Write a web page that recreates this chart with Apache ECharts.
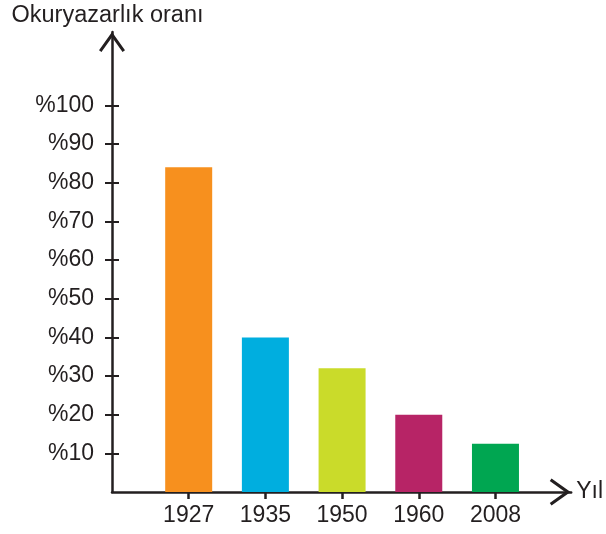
<!DOCTYPE html>
<html>
<head>
<meta charset="utf-8">
<script src="https://cdn.jsdelivr.net/npm/echarts@6/dist/echarts.min.js"></script>
<style>
  html, body { margin: 0; padding: 0; background: #fff; }
  #chart { width: 606px; height: 534px; }
</style>
</head>
<body>
<div id="chart"></div>
<script>
const years = ['1927', '1935', '1950', '1960', '2008'];
const rates = [84, 40, 32, 20, 12.5];
const barColors = ['#f7901e', '#00aedf', '#cadb2a', '#b72466', '#00a651'];
const yTicks = [10, 20, 30, 40, 50, 60, 70, 80, 90, 100];
const xPositions = [1, 2, 3, 4, 5];

const ink = '#231f20';
const font = 'Liberation Sans, Arial, sans-serif';
const fs = 23;
// open chevron pointing up, drawn as a thin filled outline
const chevron = 'path://M13,0 L26,18.3 L23.55,20 L13,5.2 L2.45,20 L0,18.3 Z';

const chart = echarts.init(document.getElementById('chart'));

chart.setOption({
    animation: false,
    textStyle: { fontFamily: font },
    grid: { left: 112, right: 30, top: 32, bottom: 42 },
    xAxis: {
        type: 'value',
        min: 0,
        max: 5.987,
        name: 'Yıl',
        nameLocation: 'end',
        nameGap: 5,
        nameTextStyle: { color: ink, fontSize: fs, fontFamily: font, padding: [0, 0, 17, 0] },
        splitLine: { show: false },
        axisLine: {
            lineStyle: { color: ink, width: 2.5 },
            symbol: ['none', chevron],
            symbolSize: [27, 22],
            symbolOffset: [0, -11]
        },
        axisTick: {
            show: true, length: 7, lineStyle: { color: ink, width: 2.5 },
            customValues: xPositions
        },
        axisLabel: {
            color: ink, fontSize: fs, margin: 12,
            customValues: xPositions,
            formatter: v => years[Math.round(v) - 1] || ''
        }
    },
    yAxis: [
        {
            type: 'value',
            min: 0,
            max: 119,
            name: 'Okuryazarlık oranı',
            nameLocation: 'end',
            nameGap: 4,
            nameTextStyle: { color: ink, fontSize: 23.5, fontFamily: font, padding: [0, 9, 0, 0] },
            splitLine: { show: false },
            axisLine: {
                lineStyle: { color: ink, width: 2.5 },
                symbol: ['none', chevron],
                symbolSize: [26, 20],
                symbolOffset: [0, -10]
            },
            axisTick: {
                show: true, length: 7, lineStyle: { color: ink, width: 2 },
                customValues: yTicks
            },
            axisLabel: {
                color: ink, fontSize: fs, margin: 18,
                customValues: yTicks,
                formatter: v => '%' + v
            }
        },
        {
            // second copy only for the inward half of the crossing ticks
            type: 'value',
            position: 'left',
            min: 0,
            max: 119,
            splitLine: { show: false },
            axisLine: { show: false },
            axisTick: {
                show: true, inside: true, length: 7, lineStyle: { color: ink, width: 2 },
                customValues: yTicks
            },
            axisLabel: { show: false }
        }
    ],
    series: [{
        type: 'bar',
        barWidth: 47,
        data: rates.map((v, i) => ({
            value: [xPositions[i], v],
            itemStyle: { color: barColors[i] }
        }))
    }]
});
</script>
</body>
</html>
